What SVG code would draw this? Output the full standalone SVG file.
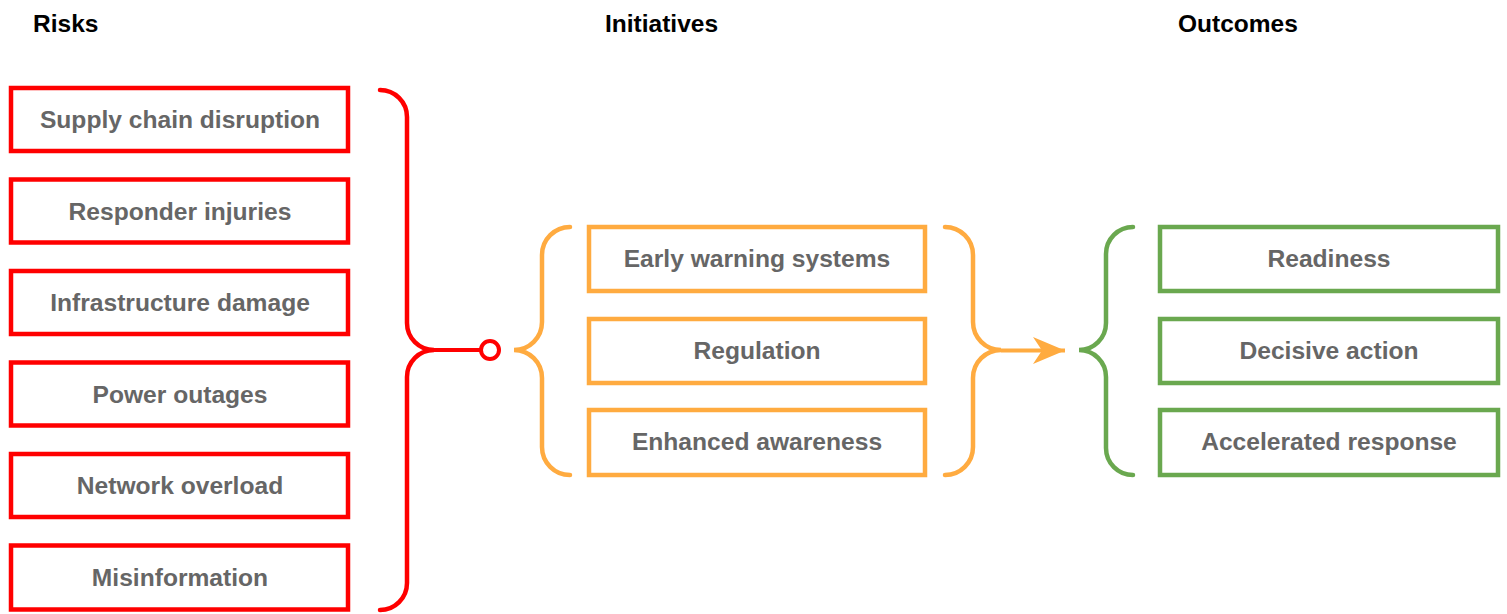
<svg xmlns="http://www.w3.org/2000/svg" width="1507" height="614" viewBox="0 0 1507 614">
<style>
.title{font-family:"Liberation Sans",Arial,sans-serif;font-weight:bold;font-size:24.5px;fill:#000}
.lbl{font-family:"Liberation Sans",Arial,sans-serif;font-weight:bold;font-size:24.6px;fill:#666;text-anchor:middle}
.red{fill:#fff;stroke:#ff0000;stroke-width:4.5}
.org{fill:#fff;stroke:#ffab40;stroke-width:4.5}
.grn{fill:#fff;stroke:#6aa84f;stroke-width:4.5}
.br{fill:none;stroke-width:4.5;stroke-linecap:round}
</style>
<defs>
<marker id="ah" viewBox="0 0 32 27" refX="32" refY="13.5" markerWidth="32" markerHeight="27" markerUnits="userSpaceOnUse" orient="auto">
<path d="M0,0 L32,13.5 L0,27 L9,13.5 Z" fill="#ffab40"/>
</marker>
</defs>
<g id="titles">
<text class="title" x="33" y="32">Risks</text>
<text class="title" x="605" y="32">Initiatives</text>
<text class="title" x="1178" y="32">Outcomes</text>
</g>
<g id="risks">
<g id="r1"><rect class="red" x="11" y="88" width="337" height="63"/><text class="lbl" x="180" y="128">Supply chain disruption</text></g>
<g id="r2"><rect class="red" x="11" y="179.5" width="337" height="63"/><text class="lbl" x="180" y="219.5">Responder injuries</text></g>
<g id="r3"><rect class="red" x="11" y="271" width="337" height="63"/><text class="lbl" x="180" y="311">Infrastructure damage</text></g>
<g id="r4"><rect class="red" x="11" y="362.5" width="337" height="63"/><text class="lbl" x="180" y="402.5">Power outages</text></g>
<g id="r5"><rect class="red" x="11" y="454" width="337" height="63"/><text class="lbl" x="180" y="494">Network overload</text></g>
<g id="r6"><rect class="red" x="11" y="545.5" width="337" height="64"/><text class="lbl" x="180" y="586">Misinformation</text></g>
</g>
<g id="initiatives">
<g id="i1"><rect class="org" x="589" y="227" width="336" height="64"/><text class="lbl" x="757" y="267">Early warning systems</text></g>
<g id="i2"><rect class="org" x="589" y="319" width="336" height="64"/><text class="lbl" x="757" y="359">Regulation</text></g>
<g id="i3"><rect class="org" x="589" y="410" width="336" height="65"/><text class="lbl" x="757" y="450">Enhanced awareness</text></g>
</g>
<g id="outcomes">
<g id="o1"><rect class="grn" x="1160" y="227" width="338" height="64"/><text class="lbl" x="1329" y="267">Readiness</text></g>
<g id="o2"><rect class="grn" x="1160" y="319" width="338" height="64"/><text class="lbl" x="1329" y="359">Decisive action</text></g>
<g id="o3"><rect class="grn" x="1160" y="410" width="338" height="65"/><text class="lbl" x="1329" y="450">Accelerated response</text></g>
</g>
<g id="connectors">
<path class="br" stroke="#ff0000" d="M380,90 A27,27 0 0 1 407,117 L407,323 A27,27 0 0 0 434,350 A27,27 0 0 0 407,377 L407,583 A27,27 0 0 1 380,610"/>
<line x1="434" y1="350" x2="481" y2="350" stroke="#ff0000" stroke-width="4"/>
<circle cx="490" cy="350" r="9" fill="#fff" stroke="#ff0000" stroke-width="4"/>
<path class="br" stroke="#ffab40" d="M570,227 A28,28 0 0 0 542,255 L542,322 A28,28 0 0 1 514,350 A28,28 0 0 1 542,378 L542,447 A28,28 0 0 0 570,475"/>
<path class="br" stroke="#ffab40" d="M945,227 A28,28 0 0 1 973,255 L973,322 A28,28 0 0 0 1001,350 A28,28 0 0 0 973,378 L973,447 A28,28 0 0 1 945,475"/>
<line x1="1001" y1="350.5" x2="1065" y2="350.5" stroke="#ffab40" stroke-width="4" marker-end="url(#ah)"/>
<path class="br" stroke="#6aa84f" d="M1133,227 A27,27 0 0 0 1106,254 L1106,323 A27,27 0 0 1 1079,350 A27,27 0 0 1 1106,377 L1106,448 A27,27 0 0 0 1133,475"/>
</g>
</svg>
